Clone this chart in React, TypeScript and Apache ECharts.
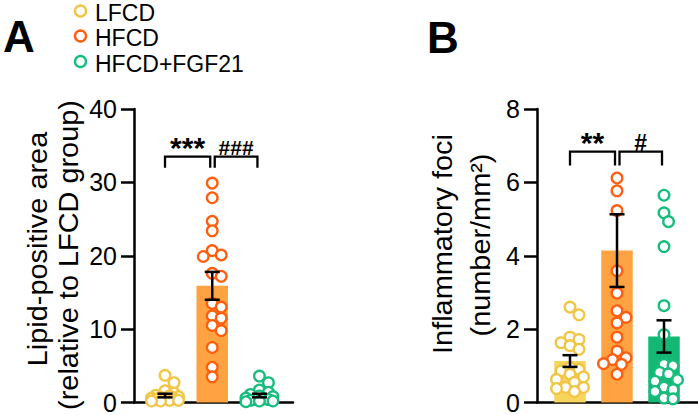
import React, { useEffect, useRef } from 'react';
import * as echarts from 'echarts';

// ---------- data ----------
const groups = ['LFCD', 'HFCD', 'HFCD+FGF21'];

// Panel A: Lipid-positive area (relative to LFCD group)
const lipidLFCD = [3.7, 2.7, 1.6, 1.3, 1.0, 0.9, 0.8, 0.7, 0.6, 0.5, 0.5, 0.4, 0.3, 0.3, 0.2, 0.2];
const lipidHFCD = [29.9, 27.9, 24.7, 23.4, 20.7, 20.1, 19.9, 17.6, 17.2, 13.5, 13.0, 11.8, 11.5, 10.5, 9.8, 7.5, 4.8, 3.5];
const lipidFGF21 = [3.6, 2.7, 1.7, 1.4, 1.1, 0.9, 0.8, 0.6, 0.5, 0.4, 0.4, 0.3, 0.2, 0.2, 0.1];
const lipidMean = [0.95, 15.9, 0.95];
const lipidSem = [0.25, 1.9, 0.25];
const lipidSig = ['***', '###'];
const lipidSigLevel = [33.5, 33.5];
const lipidTicks = { min: 0, max: 40, interval: 10 };

// Panel B: Inflammatory foci (number/mm²)
const fociLFCD = [2.6, 2.39, 1.78, 1.72, 1.63, 1.55, 1.45, 0.95, 0.9, 0.86, 0.77, 0.7, 0.63, 0.55, 0.41, 0.41, 0.38, 0.3];
const fociHFCD = [6.12, 5.77, 5.23, 3.59, 2.98, 2.5, 2.32, 2.17, 1.78, 1.4, 1.22, 1.17, 1.06, 1.04, 0.77];
const fociFGF21 = [5.65, 5.17, 4.93, 4.25, 2.64, 1.85, 1.04, 1.0, 0.82, 0.78, 0.62, 0.58, 0.42, 0.35, 0.3, 0.12, 0.1];
const fociMean = [1.13, 4.14, 1.8];
const fociSem = [0.16, 0.99, 0.44];
const fociSig = ['**', '#'];
const fociSigLevel = [6.84, 6.84];
const fociTicks = { min: 0, max: 8, interval: 2 };

// ---------- styles ----------
const FONT = 'Arial, "Liberation Sans", sans-serif';
const pointColors = ['#F2C545', '#FF5E0E', '#17BD7C'];
const barColors = ['#F7D45C', '#FFA342', '#14B875'];
const R = 5.3;

function swarm(ys: number[]): number[] {
  const order = ys.map((_, i) => i).sort((a, b) => ys[a] - ys[b] || a - b);
  const xs: number[] = new Array(ys.length).fill(0);
  const placed: number[] = [];
  const minD = 9;
  const step = 4.5;
  const maxK = 6;
  for (const i of order) {
    let best = 0;
    let bestScore = -Infinity;
    for (let k = 0; k <= maxK; k++) {
      const off = (k % 2 === 1 ? 1 : -1) * Math.ceil(k / 2) * step;
      let md = Infinity;
      for (const j of placed) {
        const d = Math.hypot(off - xs[j], ys[i] - ys[j]);
        if (d < md) md = d;
      }
      if (md >= minD) {
        best = off;
        bestScore = Infinity;
        break;
      }
      if (md > bestScore + 0.01) {
        bestScore = md;
        best = off;
      }
    }
    xs[i] = best;
    placed.push(i);
  }
  return xs;
}

function pointSeries(values: number[], g: number, axis: number) {
  return {
    type: 'custom',
    xAxisIndex: axis,
    yAxisIndex: axis,
    z: 3,
    clip: false,
    data: values.map((v) => [g, v]),
    encode: { x: 0, y: 1 },
    renderItem: (params: any, api: any) => {
      const ys = values.map((v) => api.coord([g, v])[1]);
      const offs = swarm(ys);
      const c = api.coord([g, values[params.dataIndex]]);
      return {
        type: 'circle',
        shape: { cx: c[0] + offs[params.dataIndex], cy: c[1], r: R },
        style: { fill: '#ffffff', stroke: pointColors[g], lineWidth: 2.3 },
      };
    },
  };
}

function barSeries(means: number[], sems: number[], axis: number) {
  return {
    type: 'custom',
    xAxisIndex: axis,
    yAxisIndex: axis,
    z: 2,
    data: means.map((m, i) => [i, m, sems[i]]),
    encode: { x: 0, y: 1 },
    renderItem: (params: any, api: any) => {
      const i = api.value(0);
      const top = api.coord([i, api.value(1)]);
      const base = api.coord([i, 0]);
      return {
        type: 'rect',
        shape: { x: top[0] - 15.75, y: top[1], width: 31.5, height: base[1] - top[1] },
        style: { fill: barColors[i] },
      };
    },
  };
}

function errorSeries(means: number[], sems: number[], axis: number) {
  return {
    type: 'custom',
    xAxisIndex: axis,
    yAxisIndex: axis,
    z: 4,
    data: means.map((m, i) => [i, m, sems[i]]),
    encode: { x: 0, y: 1 },
    renderItem: (params: any, api: any) => {
      const i = api.value(0);
      const m = api.value(1);
      const s = api.value(2);
      const hi = api.coord([i, m + s]);
      const lo = api.coord([i, m - s]);
      const st = { stroke: '#000', lineWidth: 2.5 };
      const w = 7.5;
      return {
        type: 'group',
        children: [
          { type: 'line', shape: { x1: hi[0], y1: hi[1], x2: lo[0], y2: lo[1] }, style: st },
          { type: 'line', shape: { x1: hi[0] - w, y1: hi[1], x2: hi[0] + w, y2: hi[1] }, style: st },
          { type: 'line', shape: { x1: lo[0] - w, y1: lo[1], x2: lo[0] + w, y2: lo[1] }, style: st },
        ],
      };
    },
  };
}

function bracketSeries(labels: string[], levels: number[], axis: number, drop: number, hashSize: number) {
  return {
    type: 'custom',
    xAxisIndex: axis,
    yAxisIndex: axis,
    z: 5,
    clip: false,
    data: levels.map((lv, k) => [k, k + 1, lv]),
    encode: { x: 0, y: 2 },
    renderItem: (params: any, api: any) => {
      const k = params.dataIndex;
      const a = api.coord([api.value(0), api.value(2)]);
      const b = api.coord([api.value(1), api.value(2)]);
      const x1 = a[0] + (k === 0 ? 0 : 2.5);
      const x2 = b[0] - 2;
      const y = a[1];
      const label = labels[k];
      const isStar = label.indexOf('*') >= 0;
      return {
        type: 'group',
        children: [
          {
            type: 'polyline',
            shape: { points: [[x1, y + drop], [x1, y], [x2, y], [x2, y + drop]] },
            style: { stroke: '#000', lineWidth: 2.3, fill: 'none' },
          },
          {
            type: 'text',
            x: (x1 + x2) / 2,
            y: y - 9,
            style: {
              text: label,
              fontSize: isStar ? 30 : hashSize,
              fontWeight: 'bold',
              fontFamily: FONT,
              fill: '#000',
              align: 'center',
              verticalAlign: 'middle',
            },
          },
        ],
      };
    },
  };
}

function yAxis(gridIndex: number, t: { min: number; max: number; interval: number }) {
  return {
    gridIndex,
    type: 'value',
    min: t.min,
    max: t.max,
    interval: t.interval,
    axisLine: { show: true, onZero: false, lineStyle: { color: '#000', width: 2.5 } },
    axisTick: { show: true, length: 13, lineStyle: { color: '#000', width: 2.5 } },
    axisLabel: { fontSize: 25, color: '#000', margin: 17, fontFamily: FONT },
    splitLine: { show: false },
  };
}

function xAxis(gridIndex: number, min: number, max: number) {
  return {
    gridIndex,
    type: 'value',
    min,
    max,
    axisLine: { show: true, onZero: false, lineStyle: { color: '#000', width: 2.5 } },
    axisTick: { show: false },
    axisLabel: { show: false },
    splitLine: { show: false },
  };
}

function vText(text: string, x: number, y: number) {
  return {
    type: 'text',
    x,
    y,
    rotation: Math.PI / 2,
    scaleX: 1.07,
    style: {
      text,
      fontSize: 27,
      fontFamily: FONT,
      fill: '#000',
      align: 'center',
      verticalAlign: 'middle',
    },
  };
}

export default function App() {
  const ref = useRef<HTMLDivElement>(null);
  useEffect(() => {
    document.body.style.margin = '0';
    if (!ref.current) return;
    const chart = echarts.init(ref.current, undefined, { renderer: 'svg' });
    const legendY = [11, 36, 61.5];
    const graphic: any[] = [];
    groups.forEach((g, i) => {
      graphic.push({
        type: 'circle',
        shape: { cx: 80.5, cy: legendY[i], r: 5.5 },
        style: { fill: '#fff', stroke: pointColors[i], lineWidth: 2.4 },
      });
      graphic.push({
        type: 'text',
        x: 95,
        y: legendY[i] + 2,
        style: {
          text: g,
          fontSize: 23,
          lineHeight: 22,
          fontFamily: FONT,
          fill: '#000',
          verticalAlign: 'middle',
          align: 'left',
        },
      });
    });
    graphic.push({
      type: 'text',
      x: 3,
      y: 36.5,
      style: { text: 'A', fontSize: 44, fontWeight: 'bold', fontFamily: FONT, fill: '#000', verticalAlign: 'middle' },
    });
    graphic.push({
      type: 'text',
      x: 427,
      y: 37.5,
      style: { text: 'B', fontSize: 44, fontWeight: 'bold', fontFamily: FONT, fill: '#000', verticalAlign: 'middle' },
    });
    graphic.push(vText('Lipid-positive area', 38, 249));
    graphic.push(vText('(relative to LFCD group)', 68.5, 255));
    graphic.push(vText('Inflammatory foci', 443, 244));
    graphic.push(vText('(number/mm\u00B2)', 481, 245));

    chart.setOption({
      animation: false,
      grid: [
        { left: 134, top: 109, width: 159, height: 296.5 },
        { left: 537, top: 109, width: 161, height: 296.5 },
      ],
      xAxis: [xAxis(0, -0.657, 2.711), xAxis(1, -0.702, 2.723)],
      yAxis: [yAxis(0, lipidTicks), yAxis(1, fociTicks)],
      graphic,
      series: [
        barSeries(lipidMean, lipidSem, 0),
        pointSeries(lipidLFCD, 0, 0),
        pointSeries(lipidHFCD, 1, 0),
        pointSeries(lipidFGF21, 2, 0),
        errorSeries(lipidMean, lipidSem, 0),
        bracketSeries(lipidSig, lipidSigLevel, 0, 11, 21),
        barSeries(fociMean, fociSem, 1),
        pointSeries(fociLFCD, 0, 1),
        pointSeries(fociHFCD, 1, 1),
        pointSeries(fociFGF21, 2, 1),
        errorSeries(fociMean, fociSem, 1),
        bracketSeries(fociSig, fociSigLevel, 1, 14, 23),
      ],
    });
    return () => chart.dispose();
  }, []);
  return (
    <div
      ref={ref}
      style={{ position: 'absolute', left: 0, top: 0, width: 698, height: 415, background: '#fff' }}
    />
  );
}
